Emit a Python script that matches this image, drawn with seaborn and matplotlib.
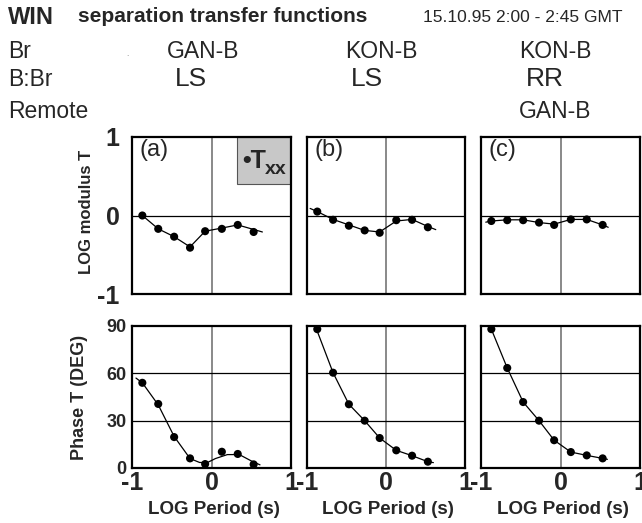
import matplotlib
matplotlib.use("Agg")
import matplotlib.pyplot as plt
import seaborn as sns
import pandas as pd

# log10 period of the estimates (same for every panel)
log_period = [-0.87, -0.67, -0.47, -0.27, -0.08, 0.13, 0.33, 0.53]

# LOG modulus T, panels (a), (b), (c)
mod_a = [0.0, -0.17, -0.27, -0.41, -0.20, -0.17, -0.12, -0.21]
mod_b = [0.05, -0.055, -0.13, -0.19, -0.22, -0.06, -0.055, -0.15]
mod_c = [-0.07, -0.06, -0.06, -0.09, -0.12, -0.05, -0.05, -0.12]

# Phase T (deg)
ph_a = [54, 40.6, 19.6, 6.1, 2.5, 10.3, 8.9, 2.3]
ph_b = [88, 60.4, 40.4, 30.0, 19.0, 11.2, 7.8, 4.0]
ph_c = [88, 63.4, 41.8, 30.0, 17.6, 10.1, 8.0, 6.1]

# fitted curves
fit_mod_a_x = [-0.87, -0.67, -0.47, -0.27, -0.08, 0.13, 0.33, 0.64]
fit_mod_a_y = [0.0, -0.17, -0.27, -0.40, -0.20, -0.16, -0.12, -0.21]
fit_mod_b_x = [-0.96, -0.87, -0.67, -0.47, -0.27, -0.08, 0.13, 0.33, 0.53, 0.63]
fit_mod_b_y = [0.09, 0.05, -0.05, -0.12, -0.19, -0.21, -0.07, -0.05, -0.14, -0.18]
fit_mod_c_x = [-0.94, -0.87, -0.67, -0.47, -0.27, -0.08, 0.13, 0.33, 0.53, 0.60]
fit_mod_c_y = [-0.085, -0.07, -0.055, -0.055, -0.09, -0.11, -0.05, -0.05, -0.12, -0.15]

fit_ph_a_x = [-0.95, -0.87, -0.67, -0.47, -0.27, -0.15, -0.05, 0.05, 0.20, 0.35, 0.50, 0.61]
fit_ph_a_y = [57, 54, 40, 20, 6, 3.5, 3.5, 6, 8.5, 8.5, 4.5, 2]
fit_ph_b_x = [-0.88, -0.67, -0.47, -0.27, -0.08, 0.13, 0.33, 0.53, 0.60]
fit_ph_b_y = [88, 60.4, 40.4, 30.0, 19.0, 11.2, 7.8, 4.0, 3.4]
fit_ph_c_x = [-0.87, -0.67, -0.47, -0.27, -0.08, 0.13, 0.33, 0.53, 0.59]
fit_ph_c_y = [88, 63.4, 41.8, 30.0, 17.6, 10.1, 8.0, 6.1, 5.5]

panel_tags = ["(a)", "(b)", "(c)"]
br_sites = ["GAN-B", "KON-B", "KON-B"]
methods = ["LS", "LS", "RR"]

sns.set_style("white")
plt.rcParams["font.family"] = ["Liberation Sans", "DejaVu Sans"]

W, H = 642, 523
fig = plt.figure(figsize=(W / 100, H / 100), dpi=100)


def px_axes(x0, y0, x1, y1):
    return fig.add_axes([x0 / W, 1 - y1 / H, (x1 - x0) / W, (y1 - y0) / H])


def ftext(x, y, s, **kw):
    kw.setdefault("va", "center")
    fig.text(x / W, 1 - y / H, s, **kw)


cols = [(132, 291), (307, 465), (481, 640)]
mods = [mod_a, mod_b, mod_c]
phs = [ph_a, ph_b, ph_c]
fit_mod = [(fit_mod_a_x, fit_mod_a_y), (fit_mod_b_x, fit_mod_b_y), (fit_mod_c_x, fit_mod_c_y)]
fit_ph = [(fit_ph_a_x, fit_ph_a_y), (fit_ph_b_x, fit_ph_b_y), (fit_ph_c_x, fit_ph_c_y)]


def style_frame(ax):
    for sp in ax.spines.values():
        sp.set_visible(True)
        sp.set_color("black")
        sp.set_linewidth(1.6)
    ax.tick_params(length=0)


for i, (x0, x1) in enumerate(cols):
    # modulus panel
    ax = px_axes(x0, 137, x1, 294)
    ax.axvline(0, color="#808080", lw=1.3, zorder=1)
    ax.axhline(0, color="black", lw=0.9, zorder=1)
    fx, fy = fit_mod[i]
    sns.lineplot(x=fx, y=fy, ax=ax, color="black", lw=0.9, sort=False, estimator=None)
    sns.scatterplot(x=log_period, y=mods[i], ax=ax, color="black", s=34,
                    edgecolor="none", zorder=3)
    ax.set_xlim(-1, 1)
    ax.set_ylim(-1, 1)
    ax.set_xticks([])
    if i == 0:
        ax.set_yticks([-1, 0, 1])
        ax.set_yticklabels(["-1", "0", "1"], fontsize=18, fontweight="bold")
        ax.tick_params(axis="y", pad=9)
    else:
        ax.set_yticks([])
    style_frame(ax)
    ax.text(0.05, 0.985, panel_tags[i], transform=ax.transAxes, fontsize=17,
            ha="left", va="top")
    if i == 0:
        ax.add_patch(plt.Rectangle((0.66, 0.70), 0.34, 0.30, transform=ax.transAxes,
                                   facecolor="#c8c8c8", edgecolor="#555555", lw=0.8,
                                   zorder=2))
        ax.text(0.695, 0.85, "\u2022T", transform=ax.transAxes, fontsize=18,
                fontweight="bold", ha="left", va="center", zorder=4)
        ax.text(0.835, 0.795, "xx", transform=ax.transAxes, fontsize=14,
                fontweight="bold", ha="left", va="center", zorder=4)

    # phase panel
    ax = px_axes(x0, 326, x1, 468)
    ax.axvline(0, color="#808080", lw=1.3, zorder=1)
    for g in (30, 60):
        ax.axhline(g, color="black", lw=0.9, zorder=1)
    fx, fy = fit_ph[i]
    sns.lineplot(x=fx, y=fy, ax=ax, color="black", lw=0.9, sort=False, estimator=None)
    sns.scatterplot(x=log_period, y=phs[i], ax=ax, color="black", s=34,
                    edgecolor="none", zorder=3)
    ax.set_xlim(-1, 1)
    ax.set_ylim(0, 90)
    ax.set_xticks([-1, 0, 1])
    ax.set_xticklabels(["-1", "0", "1"], fontsize=18, fontweight="bold")
    ax.tick_params(axis="x", pad=2)
    if i == 0:
        ax.set_yticks([0, 30, 60, 90])
        ax.set_yticklabels(["0", "30", "60", "90"], fontsize=13, fontweight="bold")
        ax.tick_params(axis="y", pad=4)
    else:
        ax.set_yticks([])
    style_frame(ax)
    ftext((x0 + x1) / 2 + 2, 510, "LOG Period (s)", fontsize=13.5,
          fontweight="bold", ha="center")

# y labels
ftext(87, 212, "LOG modulus T", fontsize=12, fontweight="bold", rotation=90, ha="center")
ftext(80, 397, "Phase T (DEG)", fontsize=13, fontweight="bold", rotation=90, ha="center")

# header block
ftext(8, 17, "WIN", fontsize=17, fontweight="bold", ha="left")
ftext(78, 17, "separation transfer functions", fontsize=15, fontweight="bold", ha="left")
ftext(423, 18, "15.10.95 2:00 - 2:45 GMT", fontsize=12.5, ha="left")

ftext(8, 52, "Br", fontsize=16.5, ha="left")
ftext(8, 80, "B:Br", fontsize=16.5, ha="left")
ftext(8, 111, "Remote", fontsize=16.5, ha="left")
ftext(127, 55, ".", fontsize=6, ha="center", color="#777777")

for xc, site in zip([203, 381, 555], br_sites):
    ftext(xc, 52, site, fontsize=16.5, ha="center")
for xc, m in zip([191, 367, 545], methods):
    ftext(xc, 79, m, fontsize=19, ha="center")
ftext(555, 111, "GAN-B", fontsize=16.5, ha="center")

fig.savefig("out.png", dpi=100)
